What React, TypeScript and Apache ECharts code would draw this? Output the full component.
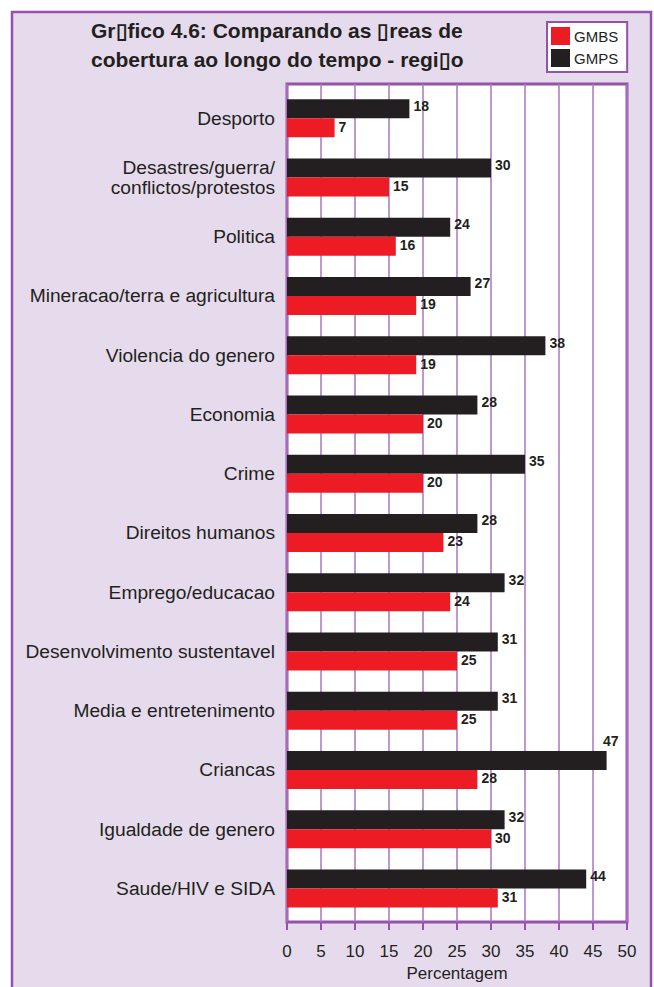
import React, { useEffect, useRef } from "react";
import * as echarts from "echarts";

const categories = [
  "Desporto",
  "Desastres/guerra/\nconflictos/protestos",
  "Politica",
  "Mineracao/terra e agricultura",
  "Violencia do genero",
  "Economia",
  "Crime",
  "Direitos humanos",
  "Emprego/educacao",
  "Desenvolvimento sustentavel",
  "Media e entretenimento",
  "Criancas",
  "Igualdade de genero",
  "Saude/HIV e SIDA",
];
const gmps = [18, 30, 24, 27, 38, 28, 35, 28, 32, 31, 31, 47, 32, 44];
const gmbs = [7, 15, 16, 19, 19, 20, 20, 23, 24, 25, 25, 28, 30, 31];
const seriesNames = ["GMBS", "GMPS"];
const xMin = 0;
const xMax = 50;
const xInterval = 5;
const titleText =
  "Gr\u25AFfico 4.6: Comparando as \u25AFreas de\ncobertura ao longo do tempo - regi\u25AFo";
const axisName = "Percentagem";

const FONT = "'Liberation Sans', Arial, sans-serif";
const RED = "#ed1c24";
const BLACK = "#231f20";
const TEXT = "#231f20";
const PURPLE = "#9651aa";
const GRIDLINE = "#a977c0";
const FRAME_BG = "#e6dbec";

export default function App() {
  const ref = useRef<HTMLDivElement>(null);
  useEffect(() => {
    if (!ref.current) return;
    const chart = echarts.init(ref.current, null, { renderer: "svg" });
    const labelBase = {
      show: true,
      position: "right",
      distance: 4,
      fontFamily: FONT,
      fontWeight: "bold",
      fontSize: 14,
      color: TEXT,
    };
    const gmpsData = gmps.map((v, i) =>
      categories[i] === "Criancas"
        ? {
            value: v,
            label: {
              position: ["100%", 0],
              align: "right",
              verticalAlign: "bottom",
              offset: [12, -3],
            },
          }
        : v
    );
    chart.setOption({
      animation: false,
      backgroundColor: "#ffffff",
      textStyle: { fontFamily: FONT },
      title: {
        text: titleText,
        left: 91,
        top: 16,
        padding: 0,
        textStyle: {
          fontFamily: FONT,
          fontSize: 21,
          fontWeight: "bold",
          color: TEXT,
          lineHeight: 29,
        },
      },
      legend: {
        data: seriesNames,
        orient: "vertical",
        left: 547,
        top: 22,
        backgroundColor: "#ffffff",
        borderColor: PURPLE,
        borderWidth: 2,
        padding: [5, 9, 5, 4],
        itemGap: 4,
        itemWidth: 19,
        itemHeight: 18,
        icon: "rect",
        textStyle: { fontFamily: FONT, fontSize: 15, color: TEXT, padding: [0, 0, 0, -1] },
      },
      graphic: [
        {
          type: "rect",
          z: -100,
          shape: { x: 12, y: 12, width: 639, height: 1000 },
          style: { fill: FRAME_BG, stroke: PURPLE, lineWidth: 2.5 },
        },
      ],
      grid: [
        {
          left: 287,
          right: 27,
          top: 84,
          bottom: 64,
          show: true,
          backgroundColor: "#ffffff",
          borderColor: PURPLE,
          borderWidth: 3,
        },
        {
          left: 287,
          right: 27,
          top: 88.5,
          bottom: 69,
        },
      ],
      xAxis: [
        {
          gridIndex: 0,
          type: "value",
          min: xMin,
          max: xMax,
          interval: xInterval,
          offset: 3,
          axisLine: { show: false },
          axisTick: { show: true, length: 8, lineStyle: { color: PURPLE, width: 2 } },
          splitLine: { show: true, lineStyle: { color: GRIDLINE, width: 1.5 } },
          axisLabel: { fontFamily: FONT, fontSize: 17, color: TEXT, margin: 18 },
          name: axisName,
          nameLocation: "middle",
          nameGap: 39,
          nameTextStyle: { fontFamily: FONT, fontSize: 17, color: TEXT },
        },
        {
          gridIndex: 1,
          type: "value",
          min: xMin,
          max: xMax,
          show: false,
        },
      ],
      yAxis: [
        { gridIndex: 0, type: "value", min: 0, max: 1, show: false },
        {
          gridIndex: 1,
          type: "category",
          data: categories,
          inverse: true,
          axisLine: { show: false },
          axisTick: { show: false },
          splitLine: { show: false },
          axisLabel: {
            fontFamily: FONT,
            fontSize: 19.2,
            color: TEXT,
            margin: 12,
            lineHeight: 20,
            align: "right",
          },
        },
      ],
      series: [
        {
          name: "GMPS",
          type: "bar",
          xAxisIndex: 1,
          yAxisIndex: 1,
          data: gmpsData,
          barWidth: 19,
          barGap: "0%",
          itemStyle: { color: BLACK },
          label: { ...labelBase, offset: [0, -3] },
        },
        {
          name: "GMBS",
          type: "bar",
          xAxisIndex: 1,
          yAxisIndex: 1,
          data: gmbs,
          barWidth: 19,
          barGap: "0%",
          itemStyle: { color: RED },
          label: { ...labelBase, offset: [0, -1] },
        },
      ],
    });
    return () => chart.dispose();
  }, []);
  return (
    <div
      ref={ref}
      style={{ position: "absolute", left: 0, top: 0, width: 654, height: 987 }}
    />
  );
}
